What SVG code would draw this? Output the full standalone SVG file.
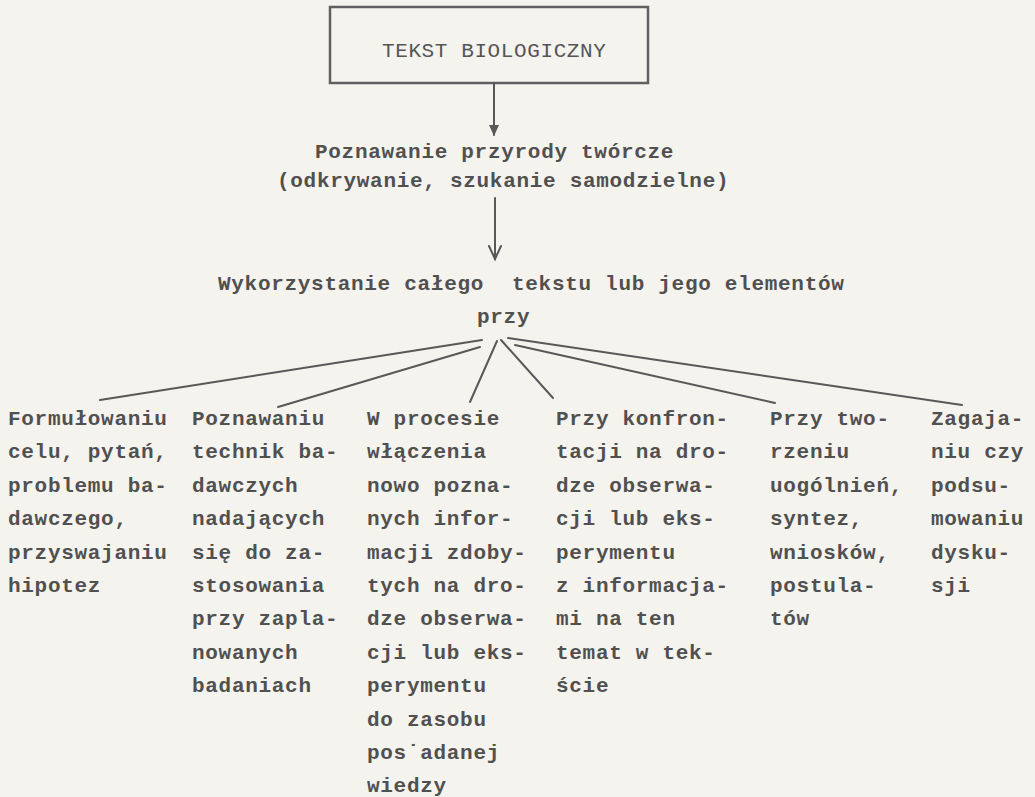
<svg xmlns="http://www.w3.org/2000/svg" width="1035" height="797" viewBox="0 0 1035 797">
<style>
.t{font-family:"Liberation Mono","DejaVu Sans Mono",monospace;font-size:21px;letter-spacing:0.7px;font-weight:bold;fill:#505050}
.b{font-family:"Liberation Mono","DejaVu Sans Mono",monospace;font-size:21px;letter-spacing:0.6px;font-weight:normal;fill:#555555}
.ln{stroke:#585858;stroke-width:2;fill:none;stroke-linecap:round}
</style>
<defs>
<marker id="fill" markerWidth="12" markerHeight="12" refX="10" refY="6" orient="auto" markerUnits="userSpaceOnUse">
<path d="M0,1 L11,6 L0,11 Z" fill="#585858"/>
</marker>
</defs>
<rect width="1035" height="797" fill="#f5f3ee"/>
<g id="node-tekst">
<rect x="330" y="7" width="318" height="76" fill="none" stroke="#606060" stroke-width="2.5"/>
<text class="b" x="382" y="57">TEKST BIOLOGICZNY</text>
</g>
<g id="node-poznawanie">
<text class="t" x="315" y="158">Poznawanie przyrody twórcze</text>
<text class="t" x="277" y="187">(odkrywanie, szukanie samodzielne)</text>
</g>
<g id="node-wykorzystanie">
<text class="t" x="218" y="290">Wykorzystanie całego</text>
<text class="t" x="512" y="290">tekstu lub jego elementów</text>
<text class="t" x="477" y="323">przy</text>
</g>
<g id="connectors">
<line class="ln" x1="494" y1="83" x2="494" y2="135" marker-end="url(#fill)"/>
<line class="ln" x1="495" y1="198" x2="495" y2="259"/>
<polyline class="ln" points="489,246 495,259 501,246"/>
<line class="ln" x1="482" y1="340" x2="100" y2="400"/>
<line class="ln" x1="480" y1="347" x2="278" y2="407"/>
<line class="ln" x1="497" y1="341" x2="470" y2="402"/>
<line class="ln" x1="501" y1="340" x2="553" y2="398"/>
<line class="ln" x1="515" y1="345" x2="775" y2="403"/>
<line class="ln" x1="508" y1="338" x2="962" y2="405"/>
</g>
<g id="col1" class="t">
<text x="8" y="425">Formułowaniu</text>
<text x="8" y="458.4">celu, pytań,</text>
<text x="8" y="491.8">problemu ba-</text>
<text x="8" y="525.2">dawczego,</text>
<text x="8" y="558.6">przyswajaniu</text>
<text x="8" y="592">hipotez</text>
</g>
<g id="col2" class="t">
<text x="192" y="425">Poznawaniu</text>
<text x="192" y="458.4">technik ba-</text>
<text x="192" y="491.8">dawczych</text>
<text x="192" y="525.2">nadających</text>
<text x="192" y="558.6">się do za-</text>
<text x="192" y="592">stosowania</text>
<text x="192" y="625.4">przy zapla-</text>
<text x="192" y="658.8">nowanych</text>
<text x="192" y="692.2">badaniach</text>
</g>
<g id="col3" class="t">
<text x="367" y="425">W procesie</text>
<text x="367" y="458.4">włączenia</text>
<text x="367" y="491.8">nowo pozna-</text>
<text x="367" y="525.2">nych infor-</text>
<text x="367" y="558.6">macji zdoby-</text>
<text x="367" y="592">tych na dro-</text>
<text x="367" y="625.4">dze obserwa-</text>
<text x="367" y="658.8">cji lub eks-</text>
<text x="367" y="692.2">perymentu</text>
<text x="367" y="725.6">do zasobu</text>
<text x="367" y="759">pos˙adanej</text>
<text x="367" y="792.4">wiedzy</text>
</g>
<g id="col4" class="t">
<text x="556" y="425">Przy konfron-</text>
<text x="556" y="458.4">tacji na dro-</text>
<text x="556" y="491.8">dze obserwa-</text>
<text x="556" y="525.2">cji lub eks-</text>
<text x="556" y="558.6">perymentu</text>
<text x="556" y="592">z informacja-</text>
<text x="556" y="625.4">mi na ten</text>
<text x="556" y="658.8">temat w tek-</text>
<text x="556" y="692.2">ście</text>
</g>
<g id="col5" class="t">
<text x="770" y="425">Przy two-</text>
<text x="770" y="458.4">rzeniu</text>
<text x="770" y="491.8">uogólnień,</text>
<text x="770" y="525.2">syntez,</text>
<text x="770" y="558.6">wniosków,</text>
<text x="770" y="592">postula-</text>
<text x="770" y="625.4">tów</text>
</g>
<g id="col6" class="t">
<text x="931" y="425">Zagaja-</text>
<text x="931" y="458.4">niu czy</text>
<text x="931" y="491.8">podsu-</text>
<text x="931" y="525.2">mowaniu</text>
<text x="931" y="558.6">dysku-</text>
<text x="931" y="592">sji</text>
</g>
</svg>
